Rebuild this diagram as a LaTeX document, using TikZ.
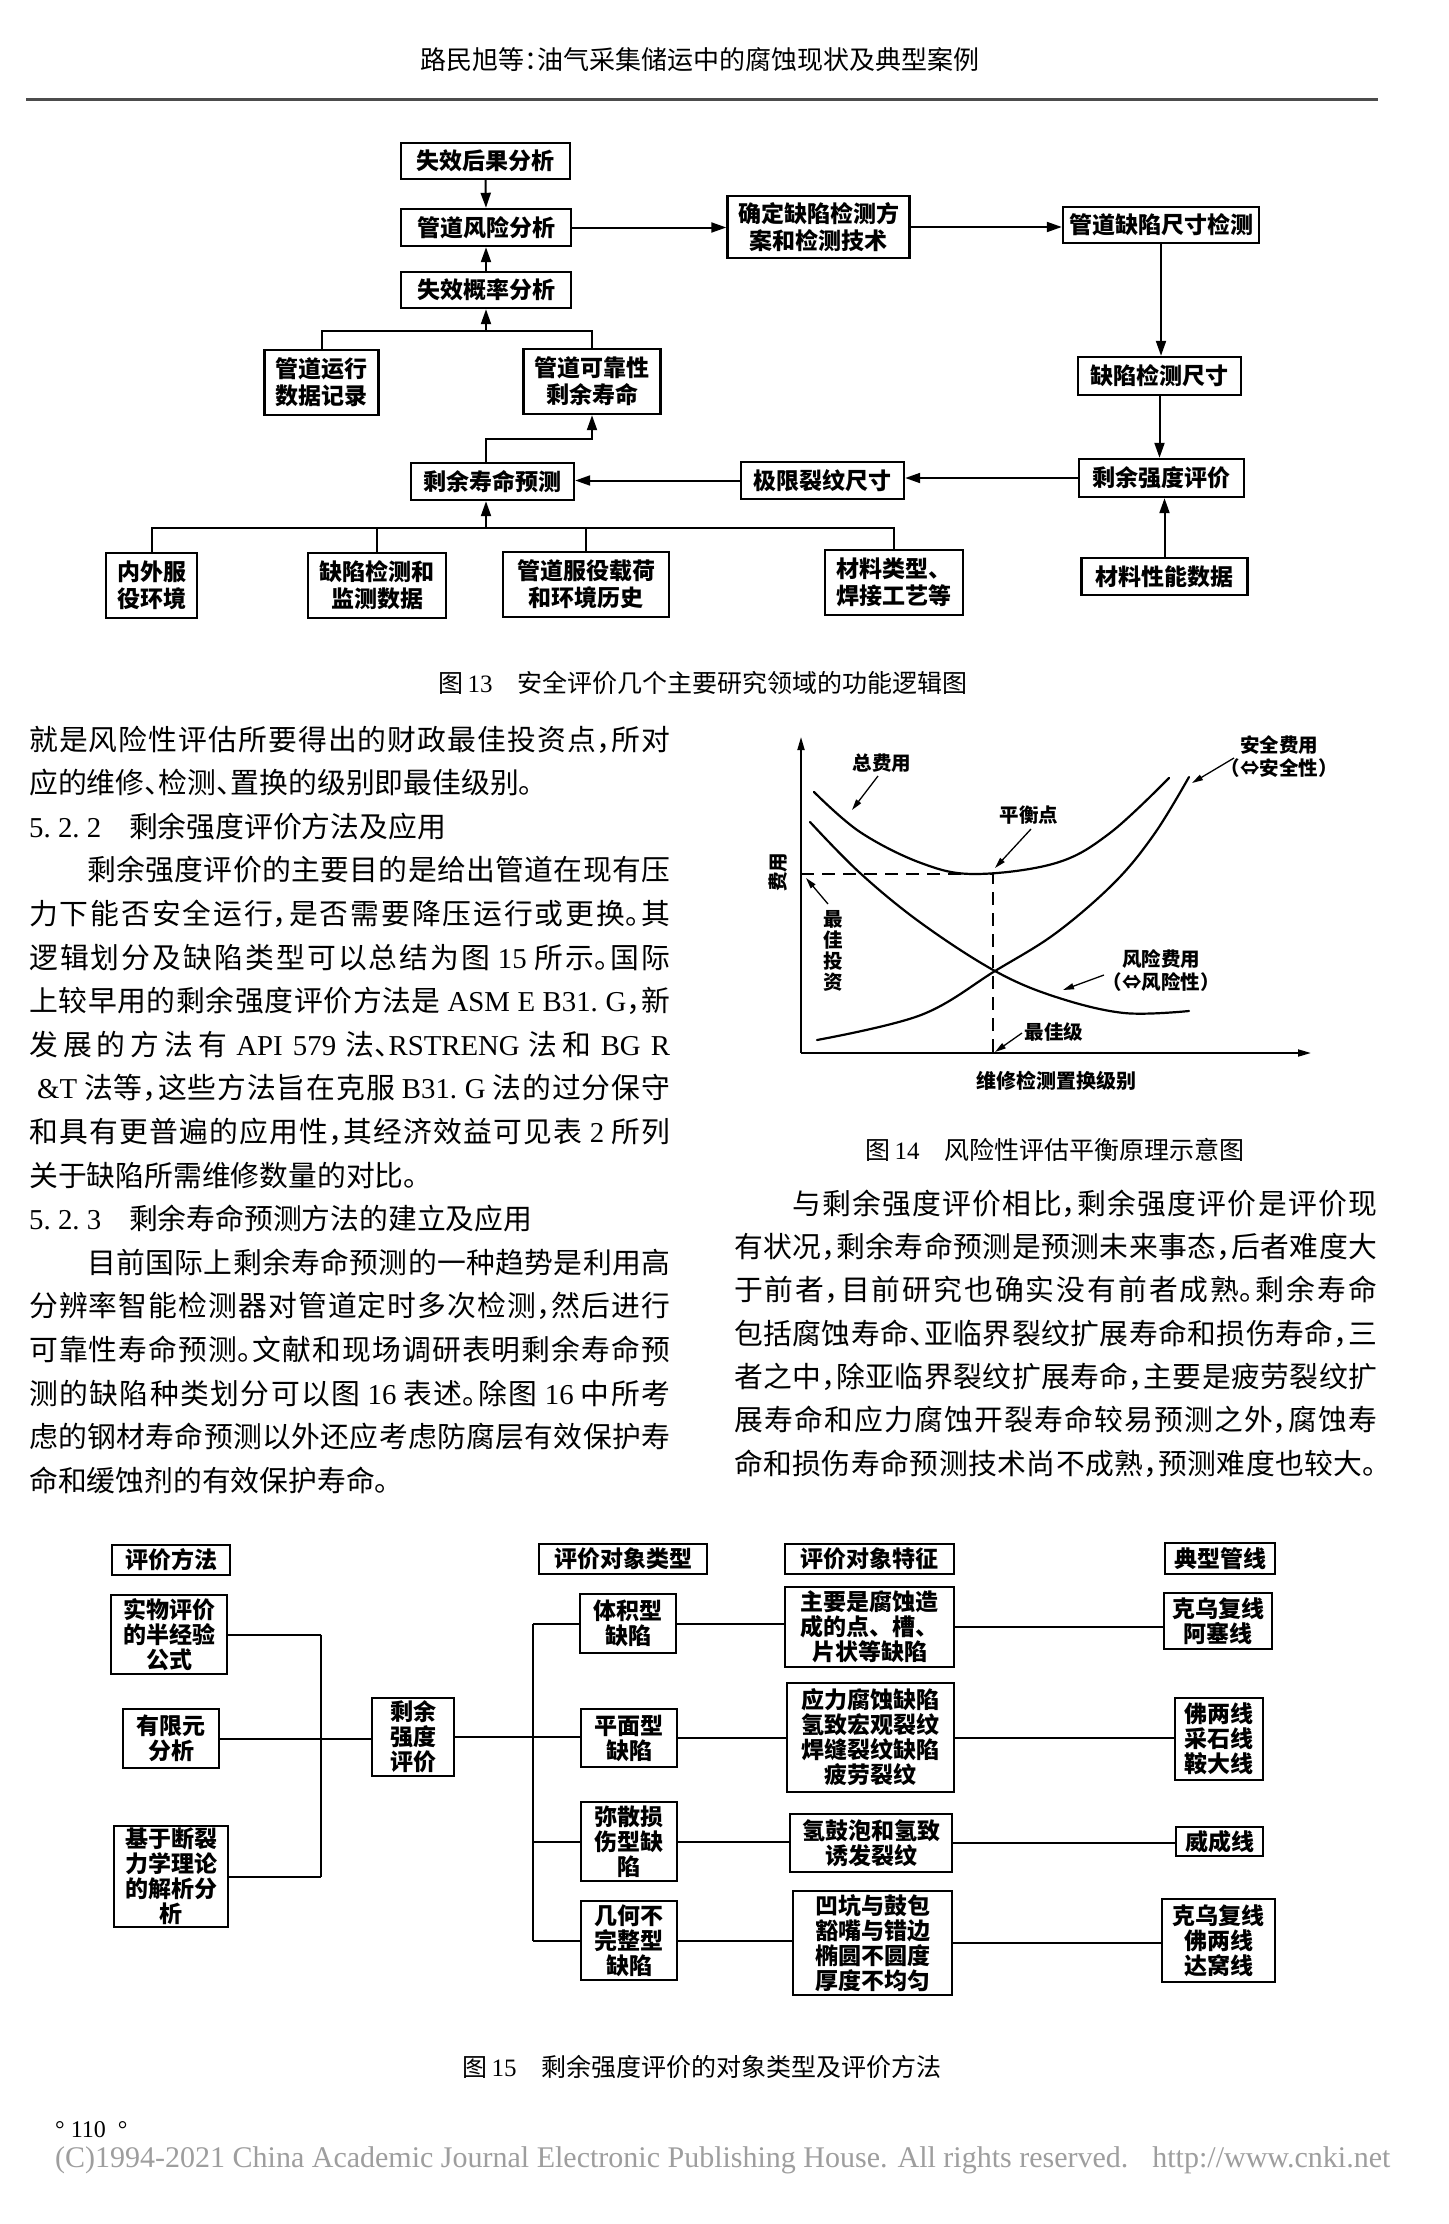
\documentclass[tikz,border=0pt]{standalone}
\usepackage{fontspec}
\setmainfont{Liberation Serif}
\newfontfamily\cjk[RawFeature=+halt]{Noto Sans CJK SC}
\newfontfamily\cjkbox{Noto Sans CJK SC}
\usetikzlibrary{arrows.meta}
\XeTeXlinebreaklocale "zh"
\XeTeXlinebreakskip=0pt plus 6pt minus 1pt
\XeTeXlinebreakpenalty=10000
\newcommand\lat[1]{{\rmfamily #1}}
\newcommand\jl[2]{\parbox[b]{#1}{\parindent=0pt\parfillskip=0pt\relax\leavevmode #2\par}}
\begin{document}
\begin{tikzpicture}[x=1pt,y=-1pt,
  bx/.style={draw, line width=2.4pt, inner sep=0pt, align=center,
    font=\cjkbox\bfseries\fontsize{23}{27}\selectfont},
  bxs/.style={bx, font=\cjkbox\bfseries\fontsize{23}{25}\selectfont},
  ln/.style={line width=2pt},
  arr/.style={line width=2pt, -{Triangle[length=15pt,width=10pt]}},
  larr/.style={line width=1.3pt, -{Triangle[length=11pt,width=6pt]}},
  bodyl/.style={anchor=base west, inner sep=0pt, font=\cjk\fontsize{28.8}{34}\selectfont},
  captxt/.style={inner sep=0pt, font=\cjk\fontsize{25}{30}\selectfont},
  lbl/.style={inner sep=0pt, align=center, font=\cjk\bfseries\fontsize{19.5}{23}\selectfont},
  curve/.style={line width=2.2pt, line cap=round},
]
\path[fill=white] (0,0) rectangle (1448,2224);
\useasboundingbox (0,0) rectangle (1448,2224);

% ---------- header ----------
\node[inner sep=0pt, font=\cjk\fontsize{26}{30}\selectfont] (hdr) at (700,60) {路民旭等：油气采集储运中的腐蚀现状及典型案例};
\coordinate (rl) at (26,99);
\coordinate (rr) at (1378,99);
\draw[line width=3pt, black!70] (rl) -- (rr);

% ---------- Fig 13 ----------
\node[bx, minimum width=169pt, minimum height=36pt] (fa) at (485.5,161) {失效后果分析};
\node[bx, minimum width=170pt, minimum height=37pt] (fb) at (486,227.5) {管道风险分析};
\node[bx, minimum width=170pt, minimum height=36pt] (fc) at (486,290) {失效概率分析};
\node[bx, minimum width=114pt, minimum height=65pt] (fd) at (321.5,382.5) {管道运行\\数据记录};
\node[bx, minimum width=137pt, minimum height=65pt] (fe) at (592,381.5) {管道可靠性\\剩余寿命};
\node[bx, minimum width=163pt, minimum height=37pt] (ff) at (492.5,481.5) {剩余寿命预测};
\node[bx, minimum width=163pt, minimum height=37pt] (fg) at (822.5,480.5) {极限裂纹尺寸};
\node[bx, minimum width=182pt, minimum height=62pt] (fh) at (818.5,227) {确定缺陷检测方\\案和检测技术};
\node[bx, minimum width=196pt, minimum height=36pt] (fi) at (1161,225) {管道缺陷尺寸检测};
\node[bx, minimum width=163pt, minimum height=38pt] (fj) at (1159.5,376) {缺陷检测尺寸};
\node[bx, minimum width=165pt, minimum height=38pt] (fk) at (1161.5,478) {剩余强度评价};
\node[bx, minimum width=166pt, minimum height=37pt] (fl) at (1164.5,576.5) {材料性能数据};
\node[bx, minimum width=91pt, minimum height=65pt] (fm) at (151.5,585.5) {内外服\\役环境};
\node[bx, minimum width=138pt, minimum height=65pt] (fn) at (377,585.5) {缺陷检测和\\监测数据};
\node[bx, minimum width=166pt, minimum height=65pt] (fo) at (586,584.5) {管道服役载荷\\和环境历史};
\node[bx, minimum width=138pt, minimum height=65pt] (fp) at (894,582.5) {材料类型、\\焊接工艺等};

\draw[arr] (fa.south) -- (fb.north);
\draw[arr] (fc.north) -- (fb.south);
\draw[arr] (fb.east) -- (fb.east -| fh.west);
\draw[arr] (fh.east) -- (fh.east -| fi.west);
\draw[arr] (fi.south) -- (fi.south |- fj.north);
\draw[arr] (fj.south) -- (fj.south |- fk.north);
\draw[arr] (fl.north) -- (fl.north |- fk.south);
\draw[arr] (fk.west) -- (fk.west -| fg.east);
\draw[arr] (fg.west) -- (fg.west -| ff.east);
\coordinate (ja) at (486,331);
\draw[ln] (fd.north) |- (ja) -| (fe.north);
\draw[arr] (ja) -- (ja |- fc.south);
\coordinate (jb) at (592,439);
\draw[arr] (ff.north -| ja) |- (jb) -- (fe.south);
\coordinate (bl) at (151.5,528);
\coordinate (br) at (894,528);
\draw[ln] (fm.north) -- (bl) -- (br) -- (fp.north);
\draw[ln] (fn.north) -- (fn.north |- bl);
\draw[ln] (fo.north) -- (fo.north |- bl);
\draw[arr] (ja |- bl) -- (ja |- ff.south);

\node[captxt] (cap13) at (703,683) {图\,\lat{13}\quad 安全评价几个主要研究领域的功能逻辑图};

% ---------- left column text ----------
\node[bodyl] (l1) at (29,750) {\jl{641pt}{就是风险性评估所要得出的财政最佳投资点，所对}};
\node[bodyl] (l2) at (29,793.6) {应的维修、检测、置换的级别即最佳级别。};
\node[bodyl] (l3) at (29,837.2) {\lat{5.~2.~2}\hspace{28pt}剩余强度评价方法及应用};
\node[bodyl] (l4) at (87,880.8) {\jl{583pt}{剩余强度评价的主要目的是给出管道在现有压}};
\node[bodyl] (l5) at (29,924.4) {\jl{641pt}{力下能否安全运行，是否需要降压运行或更换。其}};
\node[bodyl] (l6) at (29,968) {\jl{641pt}{逻辑划分及缺陷类型可以总结为图~\lat{15}~所示。国际}};
\node[bodyl] (l7) at (29,1011.6) {\jl{641pt}{上较早用的剩余强度评价方法是~\lat{ASM~E~B31.~G}，新}};
\node[bodyl] (l8) at (29,1055.2) {\jl{641pt}{发展的方法有~\lat{API~579}~法、\lat{RSTRENG}~法和~\lat{BG~R}}};
\node[bodyl] (l9) at (37,1098.8) {\jl{633pt}{\lat{\&T}~法等，这些方法旨在克服~\lat{B31.~G}~法的过分保守}};
\node[bodyl] (l10) at (29,1142.4) {\jl{641pt}{和具有更普遍的应用性，其经济效益可见表~\lat{2}~所列}};
\node[bodyl] (l11) at (29,1186) {关于缺陷所需维修数量的对比。};
\node[bodyl] (l12) at (29,1229.6) {\lat{5.~2.~3}\hspace{28pt}剩余寿命预测方法的建立及应用};
\node[bodyl] (l13) at (87,1273.2) {\jl{583pt}{目前国际上剩余寿命预测的一种趋势是利用高}};
\node[bodyl] (l14) at (29,1316.8) {\jl{641pt}{分辨率智能检测器对管道定时多次检测，然后进行}};
\node[bodyl] (l15) at (29,1360.4) {\jl{641pt}{可靠性寿命预测。文献和现场调研表明剩余寿命预}};
\node[bodyl] (l16) at (29,1404) {\jl{641pt}{测的缺陷种类划分可以图~\lat{16}~表述。除图~\lat{16}~中所考}};
\node[bodyl] (l17) at (29,1447.6) {\jl{641pt}{虑的钢材寿命预测以外还应考虑防腐层有效保护寿}};
\node[bodyl] (l18) at (29,1491.2) {命和缓蚀剂的有效保护寿命。};

% ---------- right column text ----------
\node[bodyl] (r1) at (792,1214) {\jl{585pt}{与剩余强度评价相比，剩余强度评价是评价现}};
\node[bodyl] (r2) at (734,1257.3) {\jl{643pt}{有状况，剩余寿命预测是预测未来事态，后者难度大}};
\node[bodyl] (r3) at (734,1300.7) {\jl{643pt}{于前者，目前研究也确实没有前者成熟。剩余寿命}};
\node[bodyl] (r4) at (734,1344) {\jl{643pt}{包括腐蚀寿命、亚临界裂纹扩展寿命和损伤寿命，三}};
\node[bodyl] (r5) at (734,1387.3) {\jl{643pt}{者之中，除亚临界裂纹扩展寿命，主要是疲劳裂纹扩}};
\node[bodyl] (r6) at (734,1430.7) {\jl{643pt}{展寿命和应力腐蚀开裂寿命较易预测之外，腐蚀寿}};
\node[bodyl] (r7) at (734,1474) {\jl{643pt}{命和损伤寿命预测技术尚不成熟，预测难度也较大。}};

% ---------- Fig 14 ----------
\coordinate (o) at (801,1053);
\coordinate (ytop) at (801,737);
\coordinate (xend) at (1311,1053);
\draw[line width=1.8pt, -{Triangle[length=13pt,width=7pt]}] (o) -- (ytop);
\draw[line width=1.8pt, -{Triangle[length=13pt,width=7pt]}] (o) -- (xend);
\coordinate (eq) at (993,874);
\draw[line width=1.4pt, dash pattern=on 13pt off 8pt] (o |- eq) -- (eq) -- (eq |- o);
\draw[curve] plot[smooth, tension=0.6] coordinates {(814,792) (860,832) (921,863) (975,874) (1056,863) (1110,833) (1169,778)};
\draw[curve] plot[smooth, tension=0.6] coordinates {(810,822) (860,873) (921,923) (995,971) (1056,997) (1124,1013) (1189,1011)};
\draw[curve] plot[smooth, tension=0.6] coordinates {(817,1040) (921,1015) (995,971) (1056,933) (1115,882) (1155,833) (1189,777)};
\node[lbl] (zfy) at (882,763) {总费用};
\draw[larr] (878,776) -- (852,810);
\node[lbl] (phd) at (1029,815) {平衡点};
\draw[larr] (1031,829) -- (995,868);
\node[lbl] (aqfy) at (1279,757) {安全费用\\（⇔安全性）};
\draw[larr] (1234,758) -- (1192,783);
\node[lbl, font=\cjk\bfseries\fontsize{19.5}{21}\selectfont] (zjtz) at (833,951) {最\\佳\\投\\资};
\draw[larr] (828,904) -- (806,878);
\node[lbl] (fxfy) at (1161,971) {风险费用\\（⇔风险性）};
\draw[larr] (1104,975) -- (1063,990);
\node[lbl] (zjj) at (1054,1032) {最佳级};
\draw[larr] (1022,1033) -- (995,1052);
\node[lbl, font=\cjk\bfseries\fontsize{20}{23}\selectfont] (xlab) at (1056,1081) {维修检测置换级别};
\node[lbl, rotate=90] (ylab) at (778,872) {费用};
\node[captxt] (cap14) at (1055,1150) {图\,\lat{14}\quad 风险性评估平衡原理示意图};

% ---------- Fig 15 ----------
\node[bxs, minimum width=118pt, minimum height=30pt] (h1) at (171,1560) {评价方法};
\node[bxs, minimum width=168pt, minimum height=30pt] (h2) at (623,1559) {评价对象类型};
\node[bxs, minimum width=169pt, minimum height=30pt] (h3) at (869.5,1559) {评价对象特征};
\node[bxs, minimum width=110pt, minimum height=31pt] (h4) at (1220,1558.5) {典型管线};
\node[bxs, minimum width=116pt, minimum height=79pt] (m1) at (169,1634.5) {实物评价\\的半经验\\公式};
\node[bxs, minimum width=96pt, minimum height=59pt] (m2) at (171,1738.5) {有限元\\分析};
\node[bxs, minimum width=114pt, minimum height=101pt] (m3) at (171,1876.5) {基于断裂\\力学理论\\的解析分\\析};
\node[bxs, minimum width=82pt, minimum height=78pt] (c) at (413,1737) {剩余\\强度\\评价};
\node[bxs, minimum width=96pt, minimum height=59pt] (t1) at (628,1623.5) {体积型\\缺陷};
\node[bxs, minimum width=96pt, minimum height=58pt] (t2) at (629,1738) {平面型\\缺陷};
\node[bxs, minimum width=96pt, minimum height=79pt] (t3) at (629,1841.5) {弥散损\\伤型缺\\陷};
\node[bxs, minimum width=96pt, minimum height=79pt] (t4) at (629,1940.5) {几何不\\完整型\\缺陷};
\node[bxs, minimum width=169pt, minimum height=80pt] (f1) at (869.5,1627) {主要是腐蚀造\\成的点、槽、\\片状等缺陷};
\node[bxs, minimum width=167pt, minimum height=109pt] (f2) at (870.5,1737.5) {应力腐蚀缺陷\\氢致宏观裂纹\\焊缝裂纹缺陷\\疲劳裂纹};
\node[bxs, minimum width=162pt, minimum height=58pt] (f3) at (871,1843) {氢鼓泡和氢致\\诱发裂纹};
\node[bxs, minimum width=159pt, minimum height=104pt] (f4) at (872.5,1943) {凹坑与鼓包\\豁嘴与错边\\椭圆不圆度\\厚度不均匀};
\node[bxs, minimum width=108pt, minimum height=56pt] (p1) at (1218,1621) {克乌复线\\阿塞线};
\node[bxs, minimum width=88pt, minimum height=82pt] (p2) at (1219,1739) {佛两线\\采石线\\鞍大线};
\node[bxs, minimum width=87pt, minimum height=29pt] (p3) at (1219.5,1841.5) {威成线};
\node[bxs, minimum width=113pt, minimum height=83pt] (p4) at (1218.5,1940.5) {克乌复线\\佛两线\\达窝线};

\coordinate (lb) at (321,1738);
\draw[ln] (m1.east) -- (m1.east -| lb);
\draw[ln] (m3.east) -- (m3.east -| lb);
\draw[ln] (m1.east -| lb) -- (m3.east -| lb);
\draw[ln] (m2.east) -- (m2.east -| c.west);
\coordinate (rb) at (533,1738);
\draw[ln] (c.east) -- (c.east -| t2.west);
\draw[ln] (t1.west -| rb) -- (t4.west -| rb);
\draw[ln] (t1.west -| rb) -- (t1.west);
\draw[ln] (t3.west -| rb) -- (t3.west);
\draw[ln] (t4.west -| rb) -- (t4.west);
\draw[ln] (t1.east) -- (t1.east -| f1.west);
\draw[ln] (t2.east) -- (t2.east -| f2.west);
\draw[ln] (t3.east) -- (t3.east -| f3.west);
\draw[ln] (t4.east) -- (t4.east -| f4.west);
\draw[ln] (f1.east) -- (f1.east -| p1.west);
\draw[ln] (f2.east) -- (f2.east -| p2.west);
\draw[ln] (f3.east) -- (f3.east -| p3.west);
\draw[ln] (f4.east) -- (f4.east -| p4.west);

\node[captxt] (cap15) at (702,2067) {图\,\lat{15}\quad 剩余强度评价的对象类型及评价方法};

% ---------- footer ----------
\node[anchor=west, inner sep=0pt, font=\rmfamily\fontsize{24}{26}\selectfont] (pg) at (55,2130) {°\hspace{6pt}110\hspace{12pt}°};
\node[anchor=west, inner sep=0pt, text=black!38, font=\rmfamily\fontsize{30}{32}\selectfont] (copy) at (55,2160) {(C)1994-2021 China Academic Journal Electronic Publishing House. All rights reserved.\hspace{24pt}http://www.cnki.net};
\end{tikzpicture}
\end{document}
